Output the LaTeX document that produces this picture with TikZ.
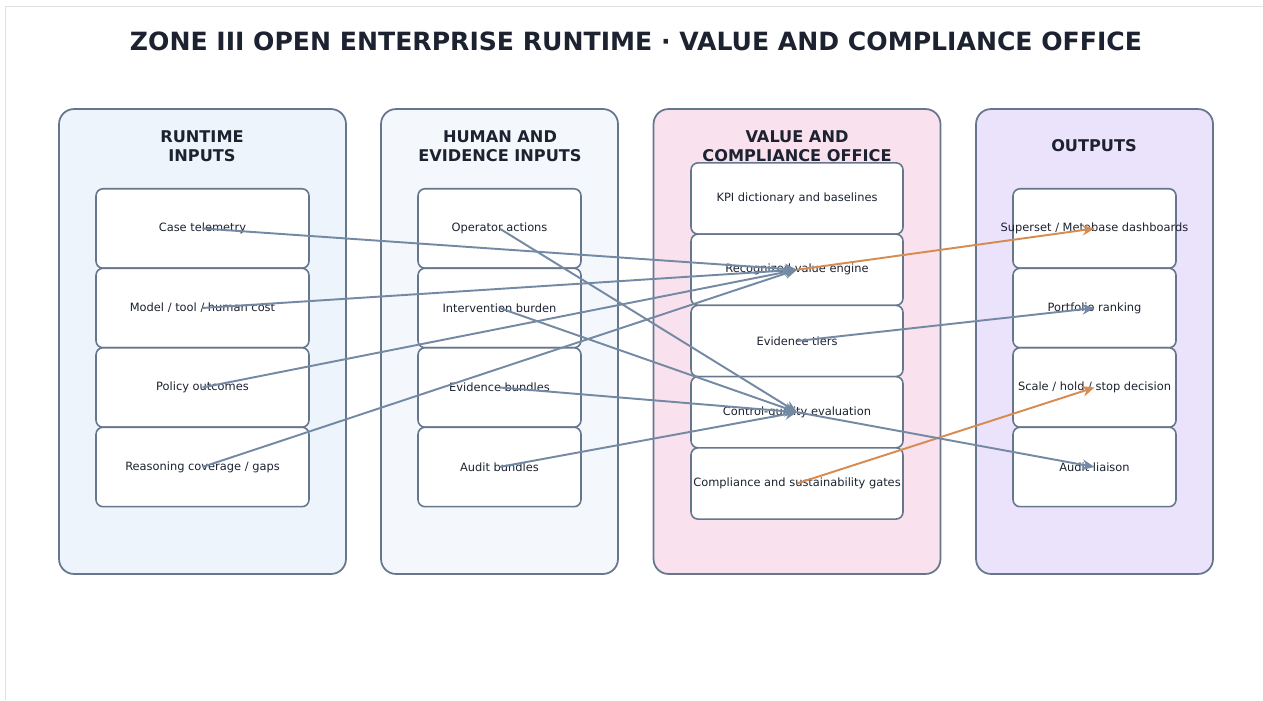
\documentclass[tikz,border=0pt]{standalone}
\usepackage{fontspec}
\setmainfont{DejaVu Sans}
\usetikzlibrary{positioning,arrows.meta}

\definecolor{ink}{HTML}{1C2230}
\definecolor{edge}{HTML}{66768C}
\definecolor{flowgray}{HTML}{7489A3}
\definecolor{floworange}{HTML}{D68B50}
\definecolor{runfill}{HTML}{EDF4FC}
\definecolor{humfill}{HTML}{F4F8FC}
\definecolor{valfill}{HTML}{F9E1EE}
\definecolor{outfill}{HTML}{EBE3FB}

\begin{document}
\begin{tikzpicture}[x=0.02cm,y=-0.02cm,node distance=0pt,
  panel/.style={draw=edge,line width=1pt,rounded corners=0.3cm,minimum height=9.3cm},
  head/.style={font=\bfseries\fontsize{9.2}{11}\selectfont,text=ink,align=center},
  item/.style={draw=edge,fill=white,line width=0.9pt,rounded corners=0.14cm,outer sep=0pt,
    minimum height=1.59cm,inner sep=0pt,text=ink,font=\fontsize{6.5}{7.5}\selectfont},
  wide/.style={item,minimum width=4.26cm},
  narrow/.style={item,minimum width=3.26cm},
  office/.style={item,minimum width=4.24cm,minimum height=1.425cm},
  flow/.style={flowgray,line width=1.1pt,-{Stealth[length=7pt,width=6pt]}},
  feed/.style={flow,floworange}]
\useasboundingbox (0,0) rectangle (1263,700);
\draw[black!12] (5,700) -- (5,6) -- (1263,6);

\node[font=\bfseries\fontsize{14.3}{17}\selectfont,text=ink] (title) at (636,41)
  {ZONE III OPEN ENTERPRISE RUNTIME · VALUE AND COMPLIANCE OFFICE};

% columns
\node[panel,fill=runfill,minimum width=5.74cm] (runtime) at (202.5,341.5) {};
\node[panel,fill=humfill,minimum width=4.74cm] (human) at (499.5,341.5) {};
\node[panel,fill=valfill,minimum width=5.74cm] (value) at (797,341.5) {};
\node[panel,fill=outfill,minimum width=4.74cm] (outputs) at (1094.5,341.5) {};
\node[head] at (202,146) {RUNTIME\\INPUTS};
\node[head] at (500,146) {HUMAN AND\\EVIDENCE INPUTS};
\node[head] at (797,146) {VALUE AND\\COMPLIANCE OFFICE};
\node[head] at (1094,146) {OUTPUTS};

% runtime inputs
\node[wide] (tel) at (202.5,228.5) {Case telemetry};
\node[wide,below=of tel] (cost) {Model / tool / human cost};
\node[wide,below=of cost] (policy) {Policy outcomes};
\node[wide,below=of policy] (gaps) {Reasoning coverage / gaps};

% human and evidence inputs
\node[narrow] (ops) at (499.5,228.5) {Operator actions};
\node[narrow,below=of ops] (burden) {Intervention burden};
\node[narrow,below=of burden] (bundles) {Evidence bundles};
\node[narrow,below=of bundles] (audit) {Audit bundles};

% value and compliance office
\node[office] (kpi) at (797,198.5) {KPI dictionary and baselines};
\node[office,below=of kpi] (engine) {Recognized value engine};
\node[office,below=of engine] (tiers) {Evidence tiers};
\node[office,below=of tiers] (control) {Control-quality evaluation};
\node[office,below=of control] (gates) {Compliance and sustainability gates};

% outputs (long label spills past the box edge)
\node[narrow] (dash) at (1094.5,228.5) {\makebox[0pt]{Superset / Metabase dashboards}};
\node[narrow,below=of dash] (rank) {Portfolio ranking};
\node[narrow,below=of rank] (decide) {\makebox[0pt]{Scale / hold / stop decision}};
\node[narrow,below=of decide] (liaison) {Audit liaison};

% flows
\draw[flow] (tel.center) -- (engine.center);
\draw[flow] (cost.center) -- (engine.center);
\draw[flow] (policy.center) -- (engine.center);
\draw[flow] (gaps.center) -- (engine.center);
\draw[flow] (ops.center) -- (control.center);
\draw[flow] (burden.center) -- (control.center);
\draw[flow] (bundles.center) -- (control.center);
\draw[flow] (audit.center) -- (control.center);
\draw[feed] (engine.center) -- (dash.center);
\draw[flow] (tiers.center) -- (rank.center);
\draw[feed] (gates.center) -- (decide.center);
\draw[flow] (control.center) -- (liaison.center);
\end{tikzpicture}
\end{document}
